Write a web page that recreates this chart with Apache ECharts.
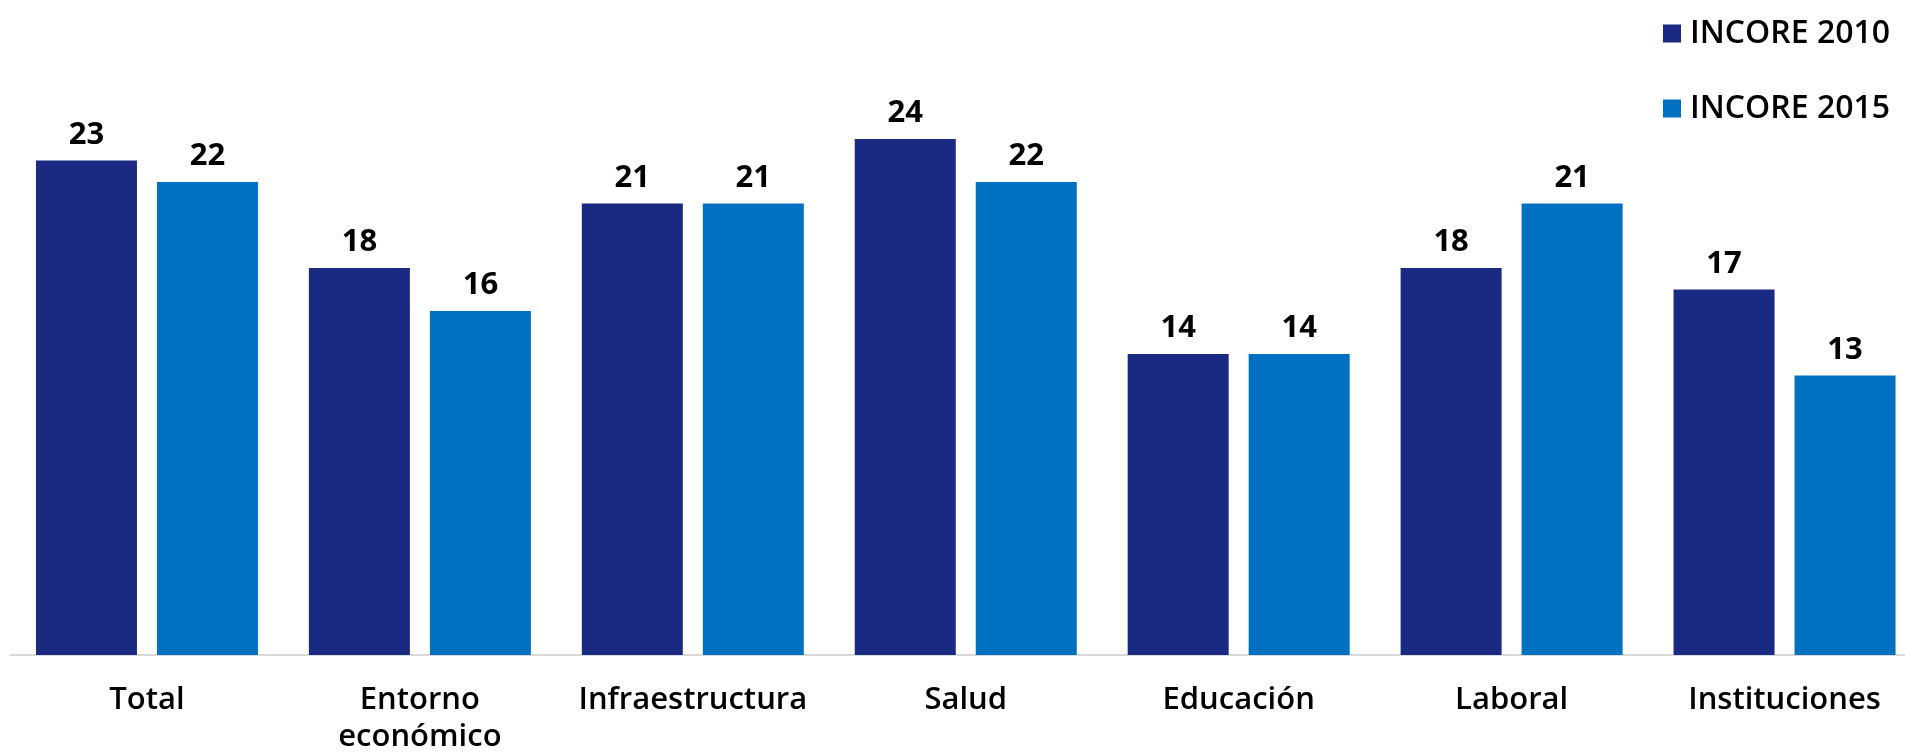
<!DOCTYPE html>
<html>
<head>
<meta charset="utf-8">
<script src="https://cdn.jsdelivr.net/npm/echarts@6/dist/echarts.min.js"></script>
<style>
html,body{margin:0;padding:0;background:#fff;}
#chart{width:1905px;height:752px;}
</style>
</head>
<body>
<div id="chart"></div>
<script>
const categories = ['Total', 'Entorno\neconómico', 'Infraestructura', 'Salud', 'Educación', 'Laboral', 'Instituciones'];
const seriesNames = ['INCORE 2010', 'INCORE 2015'];
const incore2010 = [23, 18, 21, 24, 14, 18, 17];
const incore2015 = [22, 16, 21, 22, 14, 21, 13];
const colors = ['#1A2981', '#0070C0'];

const chart = echarts.init(document.getElementById('chart'));
const font = '"Open Sans", sans-serif';
const valueLabel = {
  show: true,
  position: 'top',
  distance: 10,
  color: '#000',
  fontFamily: font,
  fontSize: 31,
  fontWeight: 700
};
chart.setOption({
  animation: false,
  color: colors,
  legend: {
    orient: 'vertical',
    left: 1658,
    top: 12,
    itemWidth: 18,
    itemHeight: 18,
    itemGap: 42,
    icon: 'rect',
    data: seriesNames,
    textStyle: {
      color: '#000',
      fontFamily: font,
      fontSize: 32,
      fontWeight: 600,
      lineHeight: 33,
      padding: [0, 0, 0, 4]
    }
  },
  grid: {
    left: 10.5,
    width: 1910.5,
    top: 10,
    bottom: 97,
    containLabel: false,
    outerBoundsMode: 'none'
  },
  xAxis: {
    type: 'category',
    data: categories,
    axisLine: { lineStyle: { color: '#D9D9D9', width: 2 } },
    axisTick: { show: false },
    axisLabel: {
      color: '#000',
      fontFamily: font,
      fontSize: 31,
      fontWeight: 600,
      lineHeight: 37,
      margin: 27,
      interval: 0
    }
  },
  yAxis: {
    type: 'value',
    min: 0,
    max: 30,
    show: false,
    splitLine: { show: false }
  },
  series: [
    {
      name: seriesNames[0],
      type: 'bar',
      data: incore2010,
      barWidth: 101,
      barGap: '19.8%',
      itemStyle: { color: colors[0] },
      label: valueLabel
    },
    {
      name: seriesNames[1],
      type: 'bar',
      data: incore2015,
      barWidth: 101,
      barGap: '19.8%',
      itemStyle: { color: colors[1] },
      label: valueLabel
    }
  ]
});
</script>
</body>
</html>
